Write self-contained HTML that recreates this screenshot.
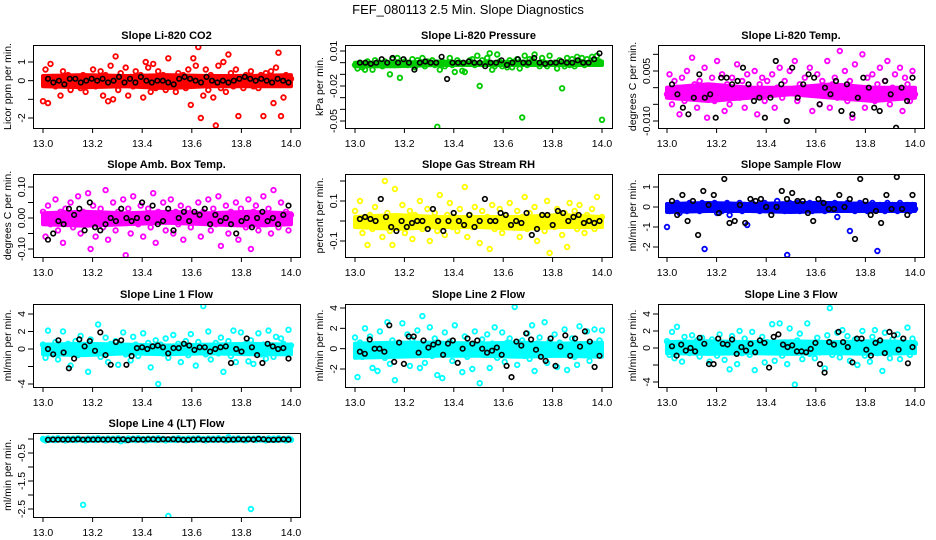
<!DOCTYPE html>
<html><head><meta charset="utf-8"><style>
html,body{margin:0;padding:0;background:#fff;}
svg{display:block;font-family:"Liberation Sans",sans-serif;}
</style></head><body>
<svg id="chart" width="936" height="540" viewBox="0 0 936 540" xmlns="http://www.w3.org/2000/svg">
<text x="468" y="14" text-anchor="middle" font-size="13">FEF_080113  2.5 Min. Slope Diagnostics</text>
</svg>
<script>
// ---- data (hour axis 13.0..14.0; points evenly spread across the hour) ----
const xTicks = [13.0,13.2,13.4,13.6,13.8,14.0];
const xTickLabels = ["13.0","13.2","13.4","13.6","13.8","14.0"];

const co2Red = [-1.1,0.6,-1.2,0.9,0.2,-0.3,0.1,-0.8,0.5,-0.2,0.3,-0.5,0.1,0.2,-0.1,-0.4,0.3,-0.6,0.2,-0.2,
0.6,-0.3,0.2,0.5,-0.8,0.3,-1.1,0.8,-1.0,1.3,-0.5,0.4,-0.2,0.7,-0.8,0.2,-0.3,0.5,-0.1,0.3,
-0.9,1.0,0.7,-0.6,0.9,-0.4,0.5,-0.2,0.3,-0.5,1.2,-0.3,0.2,-0.6,0.4,-0.1,0.3,-0.4,0.6,-1.3,
1.2,0.8,1.8,-2.0,-0.8,0.6,-0.5,0.3,-0.9,-2.4,0.8,-0.4,1.0,-0.6,1.4,0.4,-0.3,0.6,-1.9,0.2,
-0.4,0.3,-0.2,0.5,-0.3,0.1,-0.4,0.3,-1.9,0.4,-0.2,0.5,-1.2,0.7,1.5,-1.9,-0.9,0.3,-0.2,0.1];
const co2BandLow  = [-0.3,-0.35,-0.3,-0.4,-0.3,-0.3,-0.3];
const co2BandHigh = [0.25,0.3,0.25,0.3,0.25,0.25,0.3];
const co2Black = [0.1,-0.1,0.0,-0.2,0.1,0.1,-0.1,0.0,0.1,0.0,0.1,-0.1,0.0,0.2,-0.1,0.1,-0.1,0.2,0.0,-0.1,0.0,0.0,-0.1,-0.2,0.1,0.2,0.1,0.0,-0.1,0.2,0.0,-0.1,0.0,-0.1,0.0,0.1,0.2,0.1,0.0,0.1,0.0,-0.1,0.1,0.0,-0.1];

const pressureGreen = [-0.002,-0.005,0.000,-0.004,-0.006,0.001,-0.001,-0.006,0.002,-0.002,0.000,-0.003,0.001,-0.001,-0.010,0.003,-0.002,0.004,-0.013,0.000,
0.001,-0.002,-0.001,0.003,-0.004,0.002,0.000,0.004,-0.003,0.001,0.000,0.002,-0.002,-0.055,-0.006,0.001,-0.003,0.000,0.004,-0.002,
-0.008,0.002,0.000,-0.007,-0.008,-0.001,0.002,0.003,-0.002,0.006,-0.020,0.002,-0.001,0.004,0.008,-0.006,-0.003,0.007,0.001,-0.003,
-0.001,-0.004,0.002,-0.004,0.001,0.003,-0.005,-0.047,0.006,-0.002,0.003,0.002,0.007,-0.001,-0.003,0.004,0.000,-0.003,0.006,-0.001,
0.000,-0.005,0.002,-0.022,-0.003,0.004,-0.002,0.003,-0.003,0.005,0.001,0.004,-0.002,0.003,-0.001,0.005,0.002,0.006,0.001,-0.049];
const pressureBandLow  = [-0.003,-0.003,-0.002,-0.002,-0.002,-0.002,-0.002];
const pressureBandHigh = [0.000,0.000,0.001,0.000,0.001,0.000,0.001];
const pressureBlack = [0.000,0.000,-0.001,0.000,0.003,0.000,0.004,0.000,0.003,0.000,-0.006,0.000,0.001,0.000,0.000,0.005,-0.014,0.000,0.000,0.000,0.001,0.000,0.000,-0.003,0.000,0.000,0.002,-0.002,0.000,0.003,0.000,0.000,0.004,0.000,-0.001,0.000,0.000,0.001,0.000,0.000,0.002,0.000,0.000,0.003,0.008];

const tempMagenta = [-0.002,0.004,-0.005,0.002,0.000,-0.008,0.003,-0.004,0.005,-0.001,0.009,0.001,-0.006,0.002,-0.003,0.006,-0.009,0.000,0.003,-0.004,
0.008,-0.002,0.004,-0.007,0.001,-0.005,0.003,-0.001,0.007,-0.003,0.002,-0.006,0.004,0.000,-0.002,0.005,-0.008,0.001,0.003,-0.004,
0.002,-0.001,0.004,-0.006,0.000,0.006,-0.003,0.002,-0.013,0.005,-0.001,0.008,-0.004,0.001,-0.015,0.003,-0.002,0.006,-0.007,0.000,
0.004,-0.005,0.002,-0.002,0.008,-0.006,0.001,0.003,-0.003,0.011,-0.001,0.005,-0.004,0.002,-0.009,0.007,0.000,-0.002,0.010,-0.006,
0.003,-0.001,0.004,-0.004,0.001,0.006,-0.003,0.002,0.008,-0.005,0.000,0.004,-0.002,0.006,-0.007,0.003,0.001,-0.004,0.005,-0.002];
const tempBandLow  = [-0.003,-0.004,-0.003,-0.002,-0.003,-0.004,-0.003];
const tempBandHigh = [0.000,0.001,0.000,0.000,0.001,0.000,0.000];
const tempBlack = [0.001,-0.002,-0.006,-0.008,-0.003,0.004,-0.003,-0.002,-0.009,0.003,0.003,0.001,0.002,0.006,0.001,-0.004,-0.003,-0.009,-0.003,0.008,0.001,-0.010,0.006,-0.003,0.001,0.004,0.003,-0.005,0.000,-0.002,0.002,-0.007,0.001,-0.008,-0.003,0.003,0.000,-0.006,-0.007,0.002,-0.002,-0.012,0.000,-0.004,0.003];

const ambMagenta = [0.02,-0.06,0.04,-0.02,0.00,0.06,-0.04,0.02,-0.08,0.03,-0.01,0.05,-0.03,0.01,0.07,-0.05,0.02,-0.02,0.08,-0.10,
0.04,-0.06,0.00,0.03,-0.03,0.09,-0.07,0.01,0.05,-0.04,0.02,-0.01,0.06,-0.12,0.03,-0.05,0.07,0.00,-0.02,0.04,
-0.06,0.01,0.03,-0.03,0.08,-0.08,0.02,-0.01,0.05,-0.04,0.00,0.06,-0.05,0.02,-0.02,0.04,-0.07,0.01,0.03,-0.03,
0.15,-0.01,0.05,-0.06,0.02,0.00,0.06,-0.04,0.03,-0.02,0.07,-0.09,0.01,0.04,-0.05,0.02,-0.01,0.05,-0.07,0.03,
0.00,-0.03,0.06,-0.10,0.02,0.04,-0.04,0.01,0.07,-0.02,0.03,-0.05,0.09,0.00,-0.03,0.05,-0.01,0.02,-0.04,0.01];
const ambBandLow  = [-0.02,-0.025,-0.02,-0.015,-0.02,-0.025,-0.02];
const ambBandHigh = [0.015,0.02,0.015,0.02,0.015,0.02,0.015];
const ambBlack = [-0.07,-0.05,-0.01,-0.02,0.03,0.01,0.03,-0.04,0.05,-0.03,-0.04,-0.02,0.00,-0.01,0.03,0.00,-0.01,0.00,0.05,0.00,0.04,-0.02,-0.01,0.03,-0.04,0.00,0.02,-0.01,0.02,0.01,0.03,-0.02,0.01,-0.01,0.00,-0.02,-0.05,-0.01,0.00,-0.03,0.00,0.02,-0.01,0.00,-0.02,0.01,0.04];

const rhYellow = [0.05,-0.02,0.10,-0.06,0.02,-0.12,0.03,-0.04,0.07,-0.01,0.01,-0.08,0.20,0.04,-0.05,-0.12,0.16,0.02,-0.03,0.08,
-0.06,0.00,0.05,-0.09,0.03,-0.02,0.10,-0.04,0.01,0.06,-0.10,-0.02,0.04,-0.05,0.13,0.00,-0.07,0.03,0.09,-0.03,
0.02,-0.05,0.06,-0.01,0.17,-0.08,0.03,-0.03,0.07,0.00,-0.11,0.05,-0.02,0.02,-0.14,0.08,-0.04,0.01,0.06,-0.06,
0.03,-0.01,0.09,-0.03,0.00,0.05,-0.08,0.02,0.12,-0.04,0.04,-0.02,0.07,-0.10,0.01,0.03,-0.05,0.10,-0.16,0.02,
-0.03,0.06,0.00,-0.07,0.04,-0.13,0.09,-0.02,0.05,-0.04,0.08,0.01,-0.06,0.03,-0.01,0.06,-0.04,0.12,0.00,0.02];
const rhBandLow  = [-0.03,-0.04,-0.03,-0.03,-0.04,-0.03,-0.03];
const rhBandHigh = [0.02,0.03,0.02,0.02,0.02,0.03,0.02];
const rhBlack = [0.01,0.02,0.01,0.00,0.11,0.02,-0.03,-0.05,0.00,-0.03,-0.01,0.00,0.00,-0.04,0.06,0.00,-0.05,0.00,0.04,0.00,-0.02,0.03,-0.03,0.00,0.11,0.00,0.00,0.04,0.03,-0.02,0.00,-0.01,0.04,-0.07,-0.04,0.03,0.03,-0.02,0.05,0.04,0.00,0.02,0.03,-0.01,0.00,-0.01,0.00];

const sampleBlue = [-1.0,-0.2,0.1,-0.1,0.2,-0.3,0.0,0.1,-0.2,0.2,-0.1,0.0,0.1,-0.2,0.2,-2.1,0.1,-0.1,0.0,0.2,
-0.3,0.1,-0.2,0.0,0.2,-0.4,0.1,-0.1,0.0,0.2,-0.2,0.1,-0.9,0.0,0.2,-0.1,0.1,-0.2,0.0,0.2,
-0.1,0.1,-0.2,0.0,0.3,-0.1,0.1,-0.2,-2.4,0.2,-0.1,0.0,0.2,-0.2,0.1,-0.1,0.0,0.2,-0.2,0.1,
-0.1,0.0,0.2,-0.2,0.1,-0.1,0.0,0.2,-0.5,0.1,-0.1,0.0,0.2,-1.2,0.1,-0.2,0.0,0.2,-0.1,0.1,
-0.2,0.0,0.2,-0.1,-2.2,0.1,0.0,-0.2,0.2,-0.1,0.1,0.0,-0.2,0.2,-0.1,0.0,0.1,-0.2,0.1,-0.1];
const sampleBandLow  = [-0.25,-0.2,-0.2,-0.25,-0.2,-0.2,-0.2];
const sampleBandHigh = [0.15,0.2,0.15,0.2,0.2,0.15,0.15];
const sampleBlack = [0.3,-0.4,0.6,-0.7,0.3,-1.4,0.8,0.1,0.6,-0.3,1.4,-0.8,-0.7,0.1,-0.8,0.4,0.3,0.4,0.0,-0.4,0.0,0.8,0.4,0.7,0.3,0.3,-0.3,-0.7,0.4,0.2,-0.1,-0.1,0.6,0.0,0.4,-1.6,1.4,0.3,-0.4,-0.2,-0.8,0.6,-0.1,1.5,-0.1,-0.4,0.6];

const line1Cyan = [0.5,-1.0,2.1,0.3,-0.6,0.8,-1.2,0.2,2.0,-0.4,0.6,-1.9,0.1,0.9,-0.7,1.5,-0.2,0.4,-2.6,1.1,
-0.5,0.3,2.8,-0.9,0.2,1.3,-1.5,0.6,-0.3,0.9,-1.8,0.4,1.9,-0.6,0.1,-1.3,1.4,0.5,-0.8,0.2,
1.8,-0.4,0.7,-2.1,0.3,1.0,-4.0,0.5,-0.5,1.2,-1.0,0.2,1.6,-0.3,0.6,-1.5,0.4,0.9,-0.7,1.7,
0.1,-1.9,0.8,-0.2,4.9,-0.6,2.0,-1.2,0.3,0.7,-0.5,1.3,-2.6,0.2,0.9,-0.8,2.1,-1.5,0.4,1.9,
-0.3,0.6,-1.4,1.0,-1.7,0.2,1.8,-0.6,0.5,-1.1,2.1,0.3,-0.9,1.4,-0.4,1.2,0.6,-0.5,2.2,0.4];
const line1BandLow  = [-0.6,-0.7,-0.5,-0.6,-0.5,-0.6,-0.6];
const line1BandHigh = [0.5,0.6,0.5,0.4,0.5,0.6,0.5];
const line1Black = [0.0,-0.6,1.0,-0.4,-2.2,-1.1,1.1,0.3,0.9,-0.2,1.9,-0.7,-1.8,0.8,1.0,-1.8,-0.8,0.1,0.2,0.0,0.3,0.4,0.2,-0.5,0.1,0.1,0.6,0.4,-0.1,0.2,0.2,-0.3,0.0,0.2,0.3,-1.6,0.0,-0.3,1.2,0.2,-0.7,-1.6,0.6,0.3,0.0,0.1,-1.1];

const line2Cyan = [1.1,-2.8,0.6,-0.8,2.0,-0.3,1.2,-1.9,0.4,-2.2,1.7,0.1,-0.9,2.6,-1.5,0.8,-3.1,0.3,-0.6,2.5,
-0.2,1.4,-1.7,0.9,-0.4,1.8,-1.9,3.2,-1.4,0.2,2.1,-0.7,1.0,-2.6,0.5,-2.9,1.6,-0.3,0.7,-1.2,
2.3,-0.5,0.4,-2.3,1.2,-0.8,0.3,-2.0,1.7,-0.1,-3.4,0.9,-0.6,1.4,-1.9,0.5,2.1,-0.9,0.2,1.6,
-1.3,0.6,1.0,-0.4,4.1,-1.6,0.3,0.8,-0.7,1.5,-1.0,2.3,-2.2,0.5,1.1,-0.3,2.6,-1.4,0.7,-0.2,
1.4,-1.8,0.6,-0.5,1.9,-2.1,0.3,1.0,-0.8,-1.6,2.2,0.4,-0.3,1.7,-1.2,0.5,1.9,-0.6,0.8,1.8];
const line2BandLow  = [-0.9,-0.8,-0.7,-0.7,-0.8,-0.7,-0.8];
const line2BandHigh = [0.5,0.6,0.6,0.5,0.6,0.5,0.6];
const line2Black = [-0.3,-0.5,0.9,0.0,0.0,-0.3,2.3,-1.3,0.6,-1.5,1.2,1.2,-0.4,0.8,0.1,0.4,0.6,-0.6,0.5,0.8,-1.4,0.0,1.0,0.5,0.8,0.0,-0.4,-0.2,0.1,-0.6,-1.7,-2.8,0.7,0.3,1.5,0.9,-0.1,-0.8,-1.2,1.0,-1.7,0.2,1.3,-0.7,1.0,0.2,1.7,0.7,-1.8,-0.7];

const line3Cyan = [0.8,-0.8,1.9,-1.2,2.5,0.2,-1.6,1.3,0.4,-0.6,1.5,-0.2,0.9,-1.0,1.2,-0.5,0.3,-1.6,1.0,0.1,
-0.9,1.6,0.6,-1.4,0.2,-2.5,1.4,-0.3,-1.9,2.0,-0.6,1.1,0.3,-0.8,1.9,-2.6,0.5,-0.2,1.3,-1.7,
0.7,-0.4,2.8,-1.5,0.2,2.9,-0.9,0.6,-1.9,2.3,-0.3,-4.3,0.9,1.7,-1.3,0.4,2.9,-0.7,0.3,-1.2,
1.2,-0.5,0.6,-2.4,1.5,4.7,-0.8,0.2,1.8,-1.1,2.1,-0.4,1.4,-1.5,0.5,1.0,-2.0,0.3,2.0,-0.9,
0.6,-1.6,1.3,2.1,-0.6,0.4,-2.7,1.8,0.2,-1.2,1.0,-0.5,1.6,-1.3,0.7,0.3,2.4,-0.8,1.1,0.5];
const line3BandLow  = [-0.6,-0.7,-0.6,-0.7,-0.6,-0.7,-0.6];
const line3BandHigh = [0.7,0.8,0.7,0.8,0.7,0.8,0.7];
const line3Black = [0.2,-0.9,0.4,-0.3,0.0,-0.4,1.2,0.5,-1.9,-1.9,1.1,0.5,0.4,1.0,-0.7,0.1,-0.3,0.5,-0.5,0.9,0.6,-2.3,1.3,1.6,0.4,0.1,0.3,-0.4,-0.4,-0.5,-0.1,0.6,-1.9,-2.9,0.7,0.4,1.9,0.7,0.1,-1.7,1.1,1.1,-0.2,-0.9,0.6,0.9,-0.6,1.9,1.5,-0.2,1.1,-1.8,0.1];

const line4Cyan = [0.0,-0.05,0.02,-0.03,0.01,-0.04,0.03,-0.02,0.00,-0.05,0.02,-0.03,0.01,-0.04,0.03,-0.02,-2.35,-0.05,0.02,-0.03,
0.01,-0.04,0.03,-0.02,0.00,-0.05,0.02,-0.03,0.01,-0.04,0.03,-0.08,0.00,-0.05,0.02,-0.03,0.01,-0.04,0.03,-0.02,
0.00,-0.05,0.02,-0.03,0.01,-0.04,0.03,-0.02,0.00,-0.05,-2.75,-0.03,0.01,-0.04,0.03,-0.02,0.00,-0.05,0.02,-0.03,
0.01,-0.04,0.03,-0.02,0.00,-0.05,0.02,-0.03,0.01,-0.04,0.03,-0.02,0.00,-0.05,0.06,-0.03,0.01,-0.04,0.03,-0.02,
0.00,-0.05,0.02,-2.5,0.01,-0.04,0.03,-0.02,0.00,-0.05,0.02,-0.03,0.01,-0.04,0.03,-0.02,0.00,-0.05,0.02,-0.03];
const line4BandLow  = [-0.05,-0.05,-0.05,-0.05,-0.05,-0.05,-0.05];
const line4BandHigh = [0.02,0.02,0.02,0.02,0.02,0.02,0.02];
const line4Black = [-0.03,-0.02,-0.02,-0.02,-0.02,-0.02,-0.01,-0.02,-0.02,-0.02,-0.02,-0.02,-0.02,-0.02,-0.02,-0.01,-0.04,-0.01,-0.02,-0.02,-0.01,-0.01,-0.02,-0.01,-0.01,-0.01,-0.02,-0.03,-0.03,-0.02,-0.01,-0.03,-0.02,-0.02,-0.02,-0.02,-0.02,-0.02,-0.01,-0.02,-0.01,-0.02,0.00,-0.01,-0.03,-0.03,-0.02,-0.01,-0.02];

// ---- layout ----
const panels = [
 {name:"co2", title:"Slope Li-820 CO2", ylab:"Licor ppm per min.", col:0,row:0, color:"#ff0000", data:co2Red, black:co2Black, lo:co2BandLow, hi:co2BandHigh,
  cal:[1,62,-2,118], ticks:[1,0,-1,-2], labels:["1","0","","-2"]},
 {name:"pressure", title:"Slope Li-820 Pressure", ylab:"kPa per min.", col:1,row:0, color:"#00cc00", data:pressureGreen, black:pressureBlack, lo:pressureBandLow, hi:pressureBandHigh,
  cal:[0.01,51,-0.05,121], ticks:[0.01,0,-0.01,-0.02,-0.03,-0.04,-0.05], labels:["0.01","","","-0.02","","","-0.05"]},
 {name:"temp", title:"Slope Li-820 Temp.", ylab:"degrees C per min.", col:2,row:0, color:"#ff00ff", data:tempMagenta, black:tempBlack, lo:tempBandLow, hi:tempBandHigh,
  cal:[0.005,71,-0.010,121], ticks:[0.010,0.005,0,-0.005,-0.010], labels:["","0.005","","","-0.010"]},
 {name:"amb-box-temp", title:"Slope Amb. Box Temp.", ylab:"degrees C per min.", col:0,row:1, color:"#ff00ff", data:ambMagenta, black:ambBlack, lo:ambBandLow, hi:ambBandHigh,
  cal:[0.10,187,-0.10,249], ticks:[0.10,0.05,0,-0.05,-0.10], labels:["0.10","","0.00","","-0.10"]},
 {name:"gas-stream-rh", title:"Slope Gas Stream RH", ylab:"percent per min.", col:1,row:1, color:"#ffff00", data:rhYellow, black:rhBlack, lo:rhBandLow, hi:rhBandHigh,
  cal:[0.1,201,-0.1,241], ticks:[0.2,0.1,0,-0.1], labels:["","0.1","","-0.1"]},
 {name:"sample-flow", title:"Slope Sample Flow", ylab:"ml/min per min.", col:2,row:1, color:"#0000ff", data:sampleBlue, black:sampleBlack, lo:sampleBandLow, hi:sampleBandHigh,
  cal:[1,187,-2,247], ticks:[1,0,-1,-2], labels:["1","0","-1","-2"]},
 {name:"line1-flow", title:"Slope Line 1 Flow", ylab:"ml/min per min.", col:0,row:2, color:"#00ffff", data:line1Cyan, black:line1Black, lo:line1BandLow, hi:line1BandHigh,
  cal:[4,314,-4,384], ticks:[4,2,0,-2,-4], labels:["4","2","0","","-4"]},
 {name:"line2-flow", title:"Slope Line 2 Flow", ylab:"ml/min per min.", col:1,row:2, color:"#00ffff", data:line2Cyan, black:line2Black, lo:line2BandLow, hi:line2BandHigh,
  cal:[4,308,-2,369], ticks:[4,2,0,-2], labels:["4","2","0","-2"]},
 {name:"line3-flow", title:"Slope Line 3 Flow", ylab:"ml/min per min.", col:2,row:2, color:"#00ffff", data:line3Cyan, black:line3Black, lo:line3BandLow, hi:line3BandHigh,
  cal:[4,314,-4,382], ticks:[4,2,0,-2,-4], labels:["4","2","0","","-4"]},
 {name:"line4-flow", title:"Slope Line 4 (LT) Flow", ylab:"ml/min per min.", col:0,row:3, color:"#00ffff", data:line4Cyan, black:line4Black, lo:line4BandLow, hi:line4BandHigh,
  cal:[0,439,-2.5,509], ticks:[0,-0.5,-1,-1.5,-2,-2.5], labels:["","-0.5","","-1.5","","-2.5"]}
];
const colBox = [[33,300,43,291],[345,612,355,602],[658,924,667,915]];
const rowBox = [[45,128],[174,257],[304,387],[433,517]];

const NS = "http://www.w3.org/2000/svg";
const svg = document.getElementById("chart");
function mk(tag, attrs, parent){
  const e = document.createElementNS(NS, tag);
  for (const k in attrs) e.setAttribute(k, attrs[k]);
  (parent||svg).appendChild(e);
  return e;
}
panels.forEach(p=>{
  const [bl,br,x13,x14] = colBox[p.col];
  const [bt,bb] = rowBox[p.row];
  const xs = v => x13 + (v-13)*(x14-x13);
  const ys = v => p.cal[1] + (v-p.cal[0])*(p.cal[3]-p.cal[1])/(p.cal[2]-p.cal[0]);
  const g = mk("g",{});
  
  
  const t = mk("text",{x:(bl+br)/2, y:bt-6, "text-anchor":"middle","font-size":"11","font-weight":"bold"}, g);
  t.textContent = p.title;
  
  
  const yl = mk("text",{transform:`translate(${bl-22},${(bt+bb)/2}) rotate(-90)`, "text-anchor":"middle","font-size":"10.5"}, g);
  yl.textContent = p.ylab;
  
  
  const cp = mk("clipPath",{id:"c"+p.name}, g);
  mk("rect",{x:bl,y:bt,width:br-bl,height:bb-bt}, cp);
  const pts = mk("g",{"clip-path":`url(#c${p.name})`}, g);
  
  
  const k = p.lo.length;
  const top = p.hi.map((v,i)=>`${xs(13+i/(k-1)).toFixed(1)},${ys(v).toFixed(1)}`);
  const bot = p.lo.map((v,i)=>`${xs(13+i/(k-1)).toFixed(1)},${ys(v).toFixed(1)}`).reverse();
  const band = mk("polygon",{points:top.concat(bot).join(" "), fill:p.color, stroke:p.color, "stroke-width":4, "stroke-linejoin":"round"}, pts);
  
  
  const n = p.data.length;
  p.data.forEach((v,i)=>{
    const c = mk("circle",{cx:xs(13+i/(n-1)).toFixed(1), cy:ys(v).toFixed(1), r:2.3, fill:"none", stroke:p.color, "stroke-width":1.8}, pts);
    
    
  });
  const m = p.black.length;
  p.black.forEach((v,i)=>{
    const c = mk("circle",{cx:xs(13.02+0.97*i/(m-1)).toFixed(1), cy:ys(v).toFixed(1), r:2.3, fill:"none", stroke:"#000", "stroke-width":1.6}, pts);
    
    
  });
  const box = mk("rect",{x:bl+0.5,y:bt+0.5,width:br-bl,height:bb-bt,fill:"none",stroke:"#000","stroke-width":1}, g);
  
  
  xTicks.forEach((v,i)=>{
    const x = xs(v);
    mk("line",{x1:x,x2:x,y1:bb,y2:bb+5,stroke:"#000"}, g);
    const tl = mk("text",{x:x,y:bb+19,"text-anchor":"middle","font-size":"10.5"}, g);
    tl.textContent = xTickLabels[i];
    
    
  });
  p.ticks.forEach((v,i)=>{
    const y = ys(v);
    mk("line",{x1:bl-5,x2:bl,y1:y,y2:y,stroke:"#000"}, g);
    if (p.labels[i]) {
      const tl = mk("text",{transform:`translate(${bl-8},${y}) rotate(-90)`,"text-anchor":"middle","font-size":"10.5"}, g);
      tl.textContent = p.labels[i];
      
      
    }
  });
});
</script>
</body></html>
